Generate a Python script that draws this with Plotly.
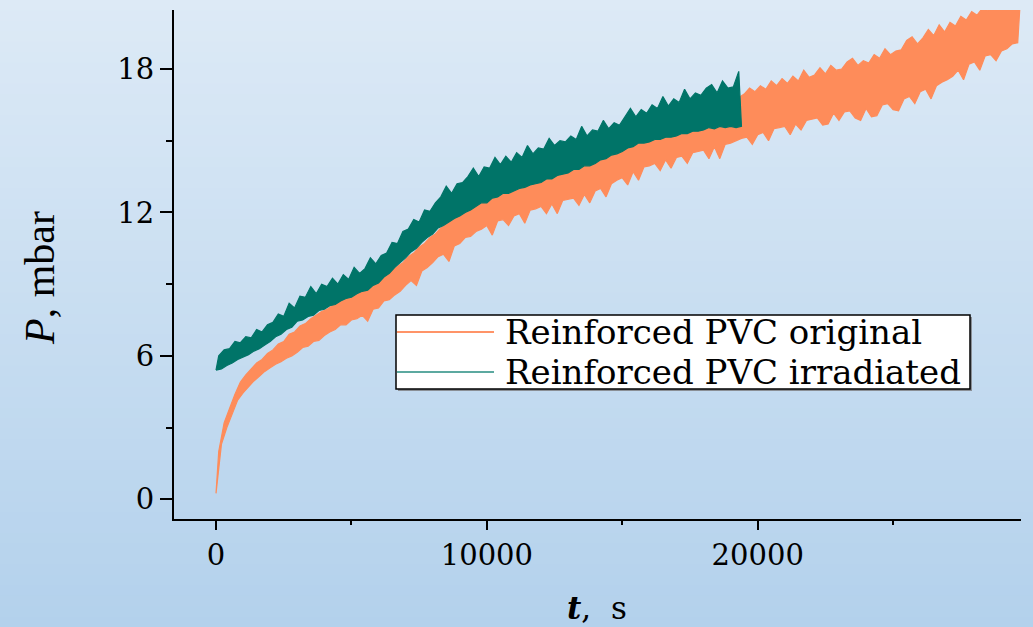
import plotly.graph_objects as go

# Pressure records, one reading every 100 s; consecutive readings swing
# between the lower and upper edge of the noisy signal.
p_original = [
    0.25, 2.0, 2.3, 3.2, 3.0, 3.8, 3.55, 4.4, 4.15, 4.9,
    4.45, 5.2, 4.7, 5.45, 4.95, 5.7, 5.15, 5.85, 5.35, 6.1,
    5.5, 6.25, 5.65, 6.5, 5.75, 6.6, 5.9, 6.9, 6.0, 7.0,
    6.15, 7.25, 6.35, 7.35, 6.4, 7.55, 6.6, 7.7, 6.65, 7.85,
    6.85, 7.95, 7.0, 8.1, 7.1, 8.25, 7.3, 8.4, 7.3, 8.5,
    7.5, 8.65, 7.55, 8.75, 7.7, 8.85, 7.45, 8.95, 7.95, 9.15,
    8.0, 9.25, 8.3, 9.45, 8.35, 9.6, 8.55, 9.75, 8.7, 9.9,
    8.95, 10.15, 9.15, 10.3, 8.95, 10.55, 9.55, 10.7, 9.7, 10.95,
    9.9, 11.1, 10.15, 11.35, 10.25, 11.5, 9.95, 11.75, 10.6, 11.9,
    10.7, 12.05, 10.95, 12.15, 11.0, 12.35, 11.2, 12.5, 11.3, 12.6,
    11.45, 12.75, 11.05, 12.85, 11.65, 12.9, 11.7, 13.0, 11.45, 13.1,
    11.85, 13.15, 11.95, 13.2, 11.55, 13.35, 12.1, 13.4, 12.15, 13.5,
    12.25, 13.55, 11.95, 13.65, 12.35, 13.7, 11.95, 13.8, 12.5, 13.9,
    12.55, 13.95, 12.6, 14.0, 12.3, 14.1, 12.75, 14.15, 12.4, 14.2,
    12.9, 14.25, 13.0, 14.35, 12.65, 14.5, 13.2, 14.6, 13.35, 14.75,
    13.45, 14.85, 13.15, 14.95, 13.7, 15.1, 13.35, 15.2, 13.9, 15.35,
    13.95, 15.45, 14.05, 15.55, 13.75, 15.65, 14.2, 15.75, 13.85, 15.8,
    14.3, 15.85, 14.35, 15.95, 14.05, 16.05, 14.5, 16.15, 14.55, 16.2,
    14.6, 16.25, 14.25, 16.35, 14.75, 16.45, 14.25, 16.55, 14.85, 16.6,
    14.9, 16.65, 15.0, 16.8, 15.1, 16.95, 15.15, 17.2, 14.85, 17.05,
    15.25, 17.3, 15.35, 17.15, 15.0, 17.5, 15.5, 17.3, 15.55, 17.6,
    15.6, 17.4, 15.25, 17.7, 15.7, 17.5, 15.45, 17.95, 15.85, 17.65,
    15.9, 17.75, 15.95, 18.05, 15.65, 17.8, 15.7, 18.15, 16.15, 17.95,
    15.85, 18.0, 16.2, 18.3, 16.25, 18.45, 15.95, 18.15, 15.85, 18.35,
    16.35, 18.25, 16.0, 18.6, 16.05, 18.45, 16.5, 18.85, 16.55, 18.6,
    16.3, 18.75, 16.25, 18.8, 16.75, 19.2, 16.85, 19.35, 16.55, 19.05,
    17.05, 19.3, 17.15, 19.65, 16.75, 19.4, 17.3, 19.85, 17.45, 19.55,
    17.55, 19.95, 17.7, 19.8, 17.95, 20.2, 17.55, 20.05, 18.2, 20.4,
    18.3, 20.25, 17.95, 20.55, 18.55, 20.45, 18.6, 20.8, 18.35, 20.65,
    18.75, 20.9, 18.85, 20.75, 19.05, 20.95, 19.1, 20.95,
]

p_irradiated = [
    5.4, 6.0, 5.45, 6.25, 5.6, 6.3, 5.7, 6.6, 5.85, 6.55,
    5.95, 6.8, 6.05, 6.75, 6.2, 7.1, 6.3, 7.0, 6.45, 7.3,
    6.6, 7.4, 6.8, 7.75, 6.9, 7.65, 7.1, 8.2, 7.2, 8.0,
    7.45, 8.5, 7.5, 8.45, 7.65, 8.9, 7.7, 8.6, 7.9, 9.0,
    7.95, 8.9, 8.1, 9.25, 8.15, 9.0, 8.3, 9.4, 8.4, 9.2,
    8.45, 9.7, 8.6, 9.45, 8.7, 9.65, 8.75, 10.1, 8.95, 9.85,
    9.05, 10.2, 9.3, 10.3, 9.45, 10.75, 9.7, 10.7, 9.9, 11.2,
    10.1, 11.3, 10.35, 11.7, 10.5, 11.6, 10.75, 12.1, 10.95, 12.05,
    11.1, 12.4, 11.35, 12.65, 11.45, 13.1, 11.6, 12.8, 11.75, 13.2,
    11.85, 13.25, 12.0, 13.5, 12.1, 13.85, 12.25, 13.5, 12.4, 13.9,
    12.4, 13.85, 12.6, 14.3, 12.65, 14.0, 12.8, 14.35, 12.8, 14.1,
    12.9, 14.5, 13.0, 14.3, 13.05, 14.8, 13.15, 14.45, 13.2, 14.7,
    13.25, 14.65, 13.4, 15.1, 13.4, 14.8, 13.55, 15.0, 13.6, 14.95,
    13.65, 15.2, 13.8, 15.05, 13.8, 15.6, 13.95, 15.2, 13.95, 15.45,
    14.05, 15.4, 14.2, 15.85, 14.25, 15.5, 14.4, 15.75, 14.45, 15.65,
    14.55, 16.0, 14.7, 16.35, 14.75, 16.0, 14.9, 16.3, 14.9, 16.15,
    14.95, 16.5, 15.05, 16.35, 15.05, 16.85, 15.15, 16.45, 15.15, 16.75,
    15.2, 16.6, 15.3, 17.15, 15.3, 16.75, 15.4, 17.0, 15.4, 16.9,
    15.45, 17.2, 15.55, 17.35, 15.5, 17.0, 15.6, 17.5, 15.55, 17.2,
    15.6, 17.25, 15.55, 17.9, 15.6,
]

SAMPLE_STEP = 100  # s
t_original = [i * SAMPLE_STEP for i in range(len(p_original))]
t_irradiated = [i * SAMPLE_STEP for i in range(len(p_irradiated))]

series_names = ["Reinforced PVC original", "Reinforced PVC irradiated"]
series_colors = ["#FE8C5A", "#007468"]
legend_line_colors = ["#FF9468", "#5CA9A0"]

x_tick_vals = [0, 10000, 20000]
x_tick_text = ["0", "10000", "20000"]
x_minor_vals = [5000, 15000, 25000]
y_tick_vals = [0, 6, 12, 18]
y_tick_text = ["0", "6", "12", "18"]
y_minor_vals = [3, 9, 15]

x_title = "<b><i>t</i></b>,\u00a0\u00a0s"
y_title = "<i>P</i>, mbar"

# ---- page geometry (pixels) ----
W, H = 1033, 627
ML, MR, MT, MB = 174, 12, 10, 108
PW, PH = W - ML - MR, H - MT - MB


def fx(px):
    """page x pixel -> paper coordinate"""
    return (px - ML) / PW


def fy(py):
    """page y pixel -> paper coordinate"""
    return (H - MB - py) / PH


def noise_band(t, p):
    """Outline of the noisy trace: lower swings forward, upper swings back."""
    t_lo, p_lo = t[0::2], p[0::2]
    t_hi, p_hi = t[1::2], p[1::2]
    return t_lo + t_hi[::-1] + [t_lo[0]], p_lo + p_hi[::-1] + [p_lo[0]]


TICK_FONT = dict(family="DejaVu Serif", size=29, color="black")

fig = go.Figure()
for t, p, name, col in [(t_original, p_original, series_names[0], series_colors[0]),
                        (t_irradiated, p_irradiated, series_names[1], series_colors[1])]:
    bx, by = noise_band(t, p)
    fig.add_trace(go.Scatter(
        x=bx, y=by, mode="lines", name=name, fill="toself", fillcolor=col,
        line=dict(color=col, width=1.2), showlegend=False, hoverinfo="skip",
    ))

# vertical background gradient
top_rgb = (221, 234, 246)
bot_rgb = (179, 209, 236)
n_bands = 60
shapes = []
for k in range(n_bands):
    f = (k + 0.5) / n_bands
    c = tuple(round(a + (b - a) * f) for a, b in zip(top_rgb, bot_rgb))
    y_top = H * k / n_bands
    y_bot = H * (k + 1) / n_bands + 1
    shapes.append(dict(
        type="rect", xref="paper", yref="paper", layer="below",
        x0=fx(-2), x1=fx(W + 2), y0=fy(y_bot), y1=fy(y_top),
        fillcolor="rgb(%d,%d,%d)" % c, line=dict(width=0),
    ))

# legend frame with shadow
LX0, LX1, LY0, LY1 = 396, 970, 315, 389
shapes.append(dict(type="rect", xref="paper", yref="paper", layer="above",
                   x0=fx(LX0 + 2), x1=fx(LX1 + 2), y0=fy(LY1 + 2), y1=fy(LY0 + 2),
                   fillcolor="#8a8f96", line=dict(width=0)))
shapes.append(dict(type="rect", xref="paper", yref="paper", layer="above",
                   x0=fx(LX0), x1=fx(LX1), y0=fy(LY1), y1=fy(LY0),
                   fillcolor="white", line=dict(color="black", width=1.5)))
legend_rows_y = [332, 372]
annotations = []
for name, col, ly in zip(series_names, legend_line_colors, legend_rows_y):
    shapes.append(dict(type="line", xref="paper", yref="paper", layer="above",
                       x0=fx(397), x1=fx(494), y0=fy(ly), y1=fy(ly),
                       line=dict(color=col, width=1.8)))
    annotations.append(dict(
        xref="paper", yref="paper", x=fx(503), y=fy(ly), xanchor="left", yanchor="middle",
        text=name, showarrow=False,
        font=dict(family="DejaVu Serif", size=34, color="black"),
    ))

annotations.append(dict(
    xref="paper", yref="paper", x=fx(40), y=fy(278), xanchor="center", yanchor="middle",
    text=y_title, textangle=-90, showarrow=False,
    font=dict(family="Liberation Serif", size=42, color="black"),
))
annotations.append(dict(
    xref="paper", yref="paper", x=fx(597), y=fy(608), xanchor="center", yanchor="middle",
    text=x_title, showarrow=False,
    font=dict(family="DejaVu Serif", size=31, color="black"),
))

fig.update_layout(
    width=W, height=H,
    margin=dict(l=ML, r=MR, t=MT, b=MB, pad=0),
    paper_bgcolor="rgb(200,221,241)",
    plot_bgcolor="rgba(0,0,0,0)",
    showlegend=False,
    shapes=shapes,
    annotations=annotations,
)
fig.update_xaxes(
    range=[-1551, 29721], showgrid=False, zeroline=False,
    showline=True, linecolor="black", linewidth=2,
    ticks="outside", ticklen=9, tickwidth=2, tickcolor="black",
    tickvals=x_tick_vals, ticktext=x_tick_text, tickfont=TICK_FONT,
    minor=dict(tickvals=x_minor_vals, ticks="outside", ticklen=4,
               tickwidth=2, tickcolor="black", showgrid=False),
)
fig.update_yaxes(
    range=[-0.824, 20.468], showgrid=False, zeroline=False,
    showline=True, linecolor="black", linewidth=2,
    ticks="outside", ticklen=12, tickwidth=2, tickcolor="black",
    tickvals=y_tick_vals, ticktext=y_tick_text, tickfont=TICK_FONT,
    minor=dict(tickvals=y_minor_vals, ticks="outside", ticklen=6,
               tickwidth=2, tickcolor="black", showgrid=False),
)

fig.write_html("out.html")
